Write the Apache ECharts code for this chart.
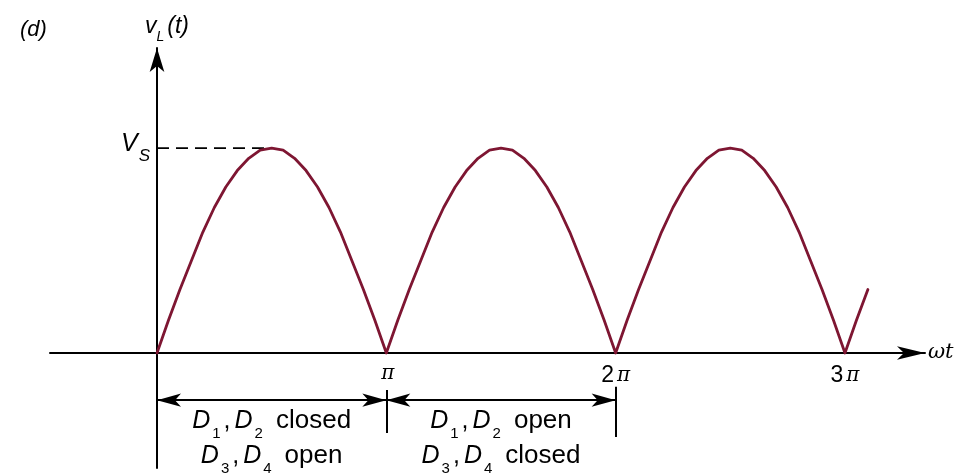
<!DOCTYPE html>
<html>
<head>
<meta charset="utf-8">
<script src="https://cdn.jsdelivr.net/npm/echarts@6/dist/echarts.min.js"></script>
<style>
  html, body { margin: 0; padding: 0; background: #ffffff; }
  #chart { width: 967px; height: 476px; }
</style>
</head>
<body>
<div id="chart"></div>
<script>
// Full-wave rectified load voltage v_L(t); ωt is measured in multiples of π.
const samplesPerPi = 20;
const vL = [
  0, 0.16, 0.31, 0.45, 0.59, 0.71, 0.81, 0.89, 0.95, 0.99, 1.00, 0.99, 0.95, 0.89, 0.81, 0.71, 0.59, 0.45, 0.31, 0.16,
  0, 0.16, 0.31, 0.45, 0.59, 0.71, 0.81, 0.89, 0.95, 0.99, 1.00, 0.99, 0.95, 0.89, 0.81, 0.71, 0.59, 0.45, 0.31, 0.16,
  0, 0.16, 0.31, 0.45, 0.59, 0.71, 0.81, 0.89, 0.95, 0.99, 1.00, 0.99, 0.95, 0.89, 0.81, 0.71, 0.59, 0.45, 0.31, 0.16,
  0, 0.16, 0.31
];

// Axis ticks (ωt in units of π) and the peak level V_S
const piTicks = [1, 2, 3];
const piTickDigits = ['', '2', '3'];
const peakValue = 1;
const peakAt = 0.5;

// Conduction intervals and which diodes are closed/open during each
const intervals = [[0, 1], [1, 2]];
const intervalLines = [
  ['{d|D}{s|1}{c|,}{d|D}{s|2}{t|closed}', '{d|D}{s|3}{c|,}{d|D}{s|4}{t|open}'],
  ['{d|D}{s|1}{c|,}{d|D}{s|2}{t|open}', '{d|D}{s|3}{c|,}{d|D}{s|4}{t|closed}']
];

const ink = '#000000';
const waveColor = '#7e1632';
const sans = 'Liberation Sans, Arial, sans-serif';

const dimY = -0.23;
const textRow1 = -0.35;
const textRow2 = -0.52;

const textRich = {
  d: { fontFamily: sans, fontStyle: 'italic', fontSize: 25, color: ink, verticalAlign: 'bottom', padding: [0, 0, 8, 0] },
  s: { fontFamily: sans, fontSize: 15, color: ink, verticalAlign: 'bottom', padding: [0, 1, 0, 2] },
  c: { fontFamily: sans, fontSize: 25, color: ink, verticalAlign: 'bottom', padding: [0, 4, 8, 2] },
  t: { fontFamily: sans, fontSize: 26, color: ink, verticalAlign: 'bottom', padding: [0, 0, 8, 12] }
};

const labelPoints = [];
intervals.forEach(function (iv, k) {
  const mid = (iv[0] + iv[1]) / 2;
  labelPoints.push({ value: [mid, textRow1], label: { formatter: intervalLines[k][0] } });
  labelPoints.push({ value: [mid, textRow2], label: { formatter: intervalLines[k][1] } });
});

const dimLines = [];
intervals.forEach(function (iv) {
  dimLines.push([{ coord: [iv[0], dimY] }, { coord: [iv[1], dimY] }]);
});
// short vertical marks closing each interval
dimLines.push([{ coord: [1, -0.18], symbol: 'none' }, { coord: [1, -0.39], symbol: 'none' }]);
dimLines.push([{ coord: [2, -0.165], symbol: 'none' }, { coord: [2, -0.41], symbol: 'none' }]);

const chart = echarts.init(document.getElementById('chart'), null, { renderer: 'canvas' });

chart.setOption({
  animation: false,
  backgroundColor: '#ffffff',
  title: {
    text: '(d)',
    left: 15,
    top: 14,
    textStyle: { fontFamily: sans, fontStyle: 'italic', fontWeight: 'normal', fontSize: 22, color: ink }
  },
  grid: { left: 50, right: 42, top: 48, bottom: 8, containLabel: false, outerBoundsMode: 'none' },
  xAxis: {
    type: 'value',
    min: -0.4666,
    max: 3.349,
    position: 'bottom',
    offset: -115,
    splitLine: { show: false },
    axisTick: { show: false },
    axisLine: {
      show: true,
      onZero: false,
      symbol: ['none', 'arrow'],
      symbolSize: [10, 28],
      lineStyle: { color: ink, width: 2 }
    },
    axisLabel: {
      customValues: piTicks,
      margin: 11,
      formatter: function (v) {
        const i = piTicks.indexOf(v);
        const d = piTickDigits[i];
        return (d ? '{n|' + d + '}' : '') + '{p|π}';
      },
      rich: {
        n: { fontFamily: sans, fontSize: 23, color: ink, verticalAlign: 'bottom' },
        p: { fontFamily: 'DejaVu Serif, serif', fontStyle: 'italic', fontSize: 20, color: ink, verticalAlign: 'bottom', padding: [0, 0, 1, 3] }
      }
    },
    name: 'ωt',
    nameLocation: 'end',
    nameGap: 3,
    nameTextStyle: { fontFamily: 'DejaVu Serif, serif', fontStyle: 'italic', fontSize: 21, color: ink, verticalAlign: 'middle', align: 'left', padding: [4, 0, 0, 0] }
  },
  yAxis: {
    type: 'value',
    min: -0.561,
    max: 1.488,
    position: 'left',
    offset: -107,
    splitLine: { show: false },
    axisTick: { show: false },
    axisLine: {
      show: true,
      onZero: false,
      symbol: ['none', 'arrow'],
      symbolSize: [11, 24],
      lineStyle: { color: ink, width: 2 }
    },
    axisLabel: {
      customValues: [peakValue],
      margin: 7,
      formatter: function () { return '{v|V}{s|S}'; },
      rich: {
        v: { fontFamily: sans, fontStyle: 'italic', fontSize: 25, color: ink, verticalAlign: 'bottom', padding: [0, 0, 8, 0] },
        s: { fontFamily: sans, fontStyle: 'italic', fontSize: 17, color: ink, verticalAlign: 'bottom', padding: [0, 0, 0, 1] }
      }
    },
    name: '{v|v}{l|L}{t|(t)}',
    nameLocation: 'end',
    nameGap: 4,
    nameTextStyle: {
      padding: [0, 0, 0, 20],
      rich: {
        v: { fontFamily: sans, fontStyle: 'italic', fontSize: 23, color: ink, verticalAlign: 'bottom', padding: [0, 0, 6, 0] },
        l: { fontFamily: sans, fontStyle: 'italic', fontSize: 14, color: ink, verticalAlign: 'bottom' },
        t: { fontFamily: sans, fontStyle: 'italic', fontSize: 23, color: ink, verticalAlign: 'bottom', padding: [0, 0, 6, 3] }
      }
    }
  },
  series: [
    {
      name: 'v_L',
      type: 'line',
      data: vL.map(function (v, i) { return [i / samplesPerPi, v]; }),
      showSymbol: false,
      smooth: false,
      lineStyle: { color: waveColor, width: 2.8, join: 'round', cap: 'round' },
      z: 5,
      silent: true
    },
    {
      name: 'peak',
      type: 'line',
      data: [[0, peakValue], [peakAt, peakValue]],
      showSymbol: false,
      lineStyle: { color: ink, width: 1.8, type: [12, 7] },
      silent: true,
      markLine: {
        silent: true,
        animation: false,
        symbol: ['arrow', 'arrow'],
        symbolSize: [10, 24],
        label: { show: false },
        emphasis: { disabled: true },
        lineStyle: { color: ink, width: 2, type: 'solid' },
        data: dimLines
      }
    },
    {
      name: 'intervals',
      type: 'scatter',
      symbolSize: 0,
      silent: true,
      itemStyle: { opacity: 1 },
      data: labelPoints,
      label: {
        show: true,
        position: 'inside',
        color: ink,
        opacity: 1,
        textBorderWidth: 0,
        rich: textRich
      }
    }
  ]
});
</script>
</body>
</html>
